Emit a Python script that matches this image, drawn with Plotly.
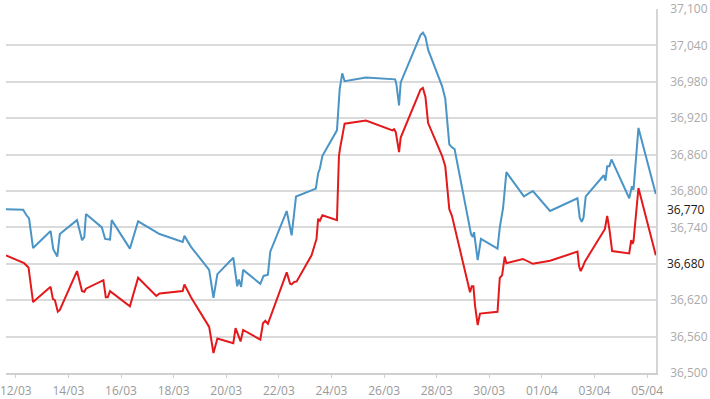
import plotly.graph_objects as go

# Blue series (upper)
blue_time = [
    "2016-03-11 15:00", "2016-03-12 06:40", "2016-03-12 09:45", "2016-03-12 12:05", "2016-03-12 15:45",
    "2016-03-13 07:45", "2016-03-13 10:10", "2016-03-13 13:50", "2016-03-13 16:10",
    "2016-03-14 07:50", "2016-03-14 12:25", "2016-03-14 14:30", "2016-03-14 16:00",
    "2016-03-15 06:30", "2016-03-15 09:30", "2016-03-15 14:00", "2016-03-15 15:30",
    "2016-03-16 08:05", "2016-03-16 15:35", "2016-03-17 11:10",
    "2016-03-18 08:15", "2016-03-18 09:50", "2016-03-18 15:50",
    "2016-03-19 08:25", "2016-03-19 12:20", "2016-03-19 15:55",
    "2016-03-20 06:25", "2016-03-20 10:00", "2016-03-20 11:30", "2016-03-20 13:35", "2016-03-20 15:25",
    "2016-03-21 07:05", "2016-03-21 10:05", "2016-03-21 14:00", "2016-03-21 16:10",
    "2016-03-22 07:10", "2016-03-22 11:40", "2016-03-22 15:40",
    "2016-03-23 09:45", "2016-03-23 11:50", "2016-03-23 13:25", "2016-03-23 15:45",
    "2016-03-24 05:00", "2016-03-24 07:30", "2016-03-24 09:50", "2016-03-24 12:00",
    "2016-03-25 07:30",
    "2016-03-26 10:05", "2016-03-26 11:15", "2016-03-26 13:40", "2016-03-26 15:10",
    "2016-03-27 09:15", "2016-03-27 11:25", "2016-03-27 13:45", "2016-03-27 16:10",
    "2016-03-28 04:55", "2016-03-28 07:50", "2016-03-28 09:25", "2016-03-28 11:30", "2016-03-28 13:55", "2016-03-28 16:20",
    "2016-03-29 07:20", "2016-03-29 08:55", "2016-03-29 10:05", "2016-03-29 13:25", "2016-03-29 16:25",
    "2016-03-30 07:30", "2016-03-30 09:35", "2016-03-30 11:05", "2016-03-30 12:35", "2016-03-30 15:35",
    "2016-03-31 07:35", "2016-03-31 15:45",
    "2016-04-01 07:25",
    "2016-04-02 08:25", "2016-04-02 10:30", "2016-04-02 12:20", "2016-04-02 13:55", "2016-04-02 16:00",
    "2016-04-03 08:30", "2016-04-03 10:00", "2016-04-03 11:35", "2016-04-03 13:35", "2016-04-03 15:30",
    "2016-04-04 07:40", "2016-04-04 10:10", "2016-04-04 11:35", "2016-04-04 16:05",
    "2016-04-05 07:55",
]
blue_value = [
    36770, 36769, 36760, 36755, 36706,
    36734, 36704, 36692, 36729,
    36752, 36719, 36724, 36762,
    36740, 36721, 36720, 36752,
    36705, 36750, 36729,
    36716, 36726, 36708,
    36670, 36624, 36663,
    36690, 36643, 36654, 36642, 36670,
    36647, 36660, 36662, 36700,
    36767, 36727, 36791,
    36804, 36829, 36837, 36858,
    36900, 36968, 36994, 36981,
    36987,
    36984, 36976, 36941, 36979,
    37057, 37061, 37054, 37033,
    36973, 36952, 36917, 36877, 36872, 36869,
    36729, 36724, 36732, 36686, 36721,
    36705, 36740, 36756, 36772, 36831,
    36791, 36800,
    36767,
    36788, 36756, 36749, 36756, 36791,
    36826, 36817, 36841, 36841, 36852,
    36788, 36808, 36802, 36904,
    36795,
]

# Red series (lower)
red_time = [
    "2016-03-11 15:00", "2016-03-12 07:35", "2016-03-12 11:35", "2016-03-12 15:45",
    "2016-03-13 07:45", "2016-03-13 09:50", "2016-03-13 11:40", "2016-03-13 14:20", "2016-03-13 16:10",
    "2016-03-14 07:50", "2016-03-14 12:25", "2016-03-14 14:30", "2016-03-14 16:00",
    "2016-03-15 07:55", "2016-03-15 10:05", "2016-03-15 11:55", "2016-03-15 14:00",
    "2016-03-16 08:05", "2016-03-16 15:35",
    "2016-03-17 08:10", "2016-03-17 11:10",
    "2016-03-18 08:15", "2016-03-18 09:50", "2016-03-18 15:50",
    "2016-03-19 08:25", "2016-03-19 12:20", "2016-03-19 15:55",
    "2016-03-20 06:25", "2016-03-20 08:30", "2016-03-20 11:30", "2016-03-20 13:05", "2016-03-20 15:25",
    "2016-03-21 07:05", "2016-03-21 09:30", "2016-03-21 11:40", "2016-03-21 14:00", "2016-03-21 16:10",
    "2016-03-22 07:10", "2016-03-22 10:15", "2016-03-22 11:40", "2016-03-22 13:55", "2016-03-22 16:15",
    "2016-03-23 05:50", "2016-03-23 10:20", "2016-03-23 11:50", "2016-03-23 13:25", "2016-03-23 15:45",
    "2016-03-24 05:00", "2016-03-24 06:50", "2016-03-24 08:00", "2016-03-24 12:00",
    "2016-03-25 07:30",
    "2016-03-26 07:40", "2016-03-26 09:10", "2016-03-26 10:40", "2016-03-26 13:40", "2016-03-26 15:10",
    "2016-03-27 09:15", "2016-03-27 11:25", "2016-03-27 13:45", "2016-03-27 16:10",
    "2016-03-28 04:55", "2016-03-28 07:50", "2016-03-28 11:30", "2016-03-28 13:55",
    "2016-03-29 06:25", "2016-03-29 08:00", "2016-03-29 09:30", "2016-03-29 11:00", "2016-03-29 13:25", "2016-03-29 15:30",
    "2016-03-30 07:30", "2016-03-30 09:35", "2016-03-30 11:40", "2016-03-30 14:05", "2016-03-30 15:35",
    "2016-03-31 06:40", "2016-03-31 15:45",
    "2016-04-01 07:25",
    "2016-04-02 08:25", "2016-04-02 09:55", "2016-04-02 11:25", "2016-04-02 13:30", "2016-04-02 15:20",
    "2016-04-03 09:25", "2016-04-03 11:35", "2016-04-03 13:35", "2016-04-03 16:05",
    "2016-04-04 07:40", "2016-04-04 09:30", "2016-04-04 10:40", "2016-04-04 11:35", "2016-04-04 16:05",
    "2016-04-05 07:55",
]
red_value = [
    36694, 36681, 36674, 36617,
    36642, 36622, 36620, 36601, 36604,
    36668, 36635, 36634, 36639,
    36653, 36625, 36625, 36635,
    36610, 36657,
    36627, 36631,
    36635, 36646, 36625,
    36576, 36533, 36557,
    36549, 36574, 36558, 36552, 36571,
    36555, 36582, 36586, 36581, 36592,
    36666, 36647, 36646, 36650, 36651,
    36694, 36721, 36754, 36751, 36760,
    36752, 36858, 36872, 36911,
    36916,
    36900, 36902, 36897, 36864, 36888,
    36967, 36970, 36955, 36912,
    36858, 36841, 36770, 36759,
    36633, 36643, 36643, 36611, 36579, 36598,
    36601, 36657, 36661, 36692, 36681,
    36688, 36680,
    36685,
    36700, 36676, 36668, 36676, 36684,
    36737, 36759, 36737, 36701,
    36697, 36719, 36713, 36717, 36805,
    36694,
]

y_ticks = [36500, 36560, 36620, 36680, 36740, 36800, 36860, 36920, 36980, 37040, 37100]
marker_levels = [36770, 36680]
x_range = ["2016-03-11 15:03", "2016-04-05 08:06"]

fig = go.Figure()
fig.add_trace(go.Scatter(x=blue_time, y=blue_value, mode="lines",
                         line=dict(color="#4a94c6", width=2), hoverinfo="skip"))
fig.add_trace(go.Scatter(x=red_time, y=red_value, mode="lines",
                         line=dict(color="#e3191c", width=2), hoverinfo="skip"))

for lv in marker_levels:
    fig.add_annotation(x=1, xref="paper", xanchor="left", xshift=9,
                       y=lv, yref="y", yanchor="middle",
                       text=f"{lv:,}", showarrow=False,
                       font=dict(family="Open Sans", size=12, color="#1a1a1a"))

# tick labels: the levels highlighted in black are drawn by annotations instead
tick_text = ["" if v in marker_levels else f"{v:,}" for v in y_ticks]

fig.update_layout(
    width=710, height=399,
    margin=dict(l=0, r=54, t=8, b=18),
    paper_bgcolor="white", plot_bgcolor="white",
    showlegend=False,
    font=dict(family="Open Sans", size=12, color="#999"),
)
fig.update_xaxes(
    type="date", range=x_range,
    tick0="2016-03-12", dtick=2 * 86400000, tickformat="%d/%m",
    showgrid=False, zeroline=False,
    showline=True, linecolor="#cfcfcf", linewidth=1.5,
    ticks="outside", ticklen=3, tickcolor="#cfcfcf",
    ticklabelstandoff=3, ticklabeloverflow="allow",
    tickfont=dict(family="Open Sans", size=12, color="#999"),
)
fig.update_yaxes(
    side="right", range=[36500, 37100],
    tickvals=y_ticks, ticktext=tick_text,
    showgrid=True, gridcolor="#dadada", gridwidth=1.5,
    zeroline=False,
    showline=True, linecolor="#d5d5d5", linewidth=1.5,
    ticks="", ticklabelstandoff=10, ticklabeloverflow="allow",
    tickfont=dict(family="Open Sans", size=12, color="#aaa"),
)

fig.write_html("out.html", config={"displayModeBar": False},
               post_script="document.body.style.margin='0';")
